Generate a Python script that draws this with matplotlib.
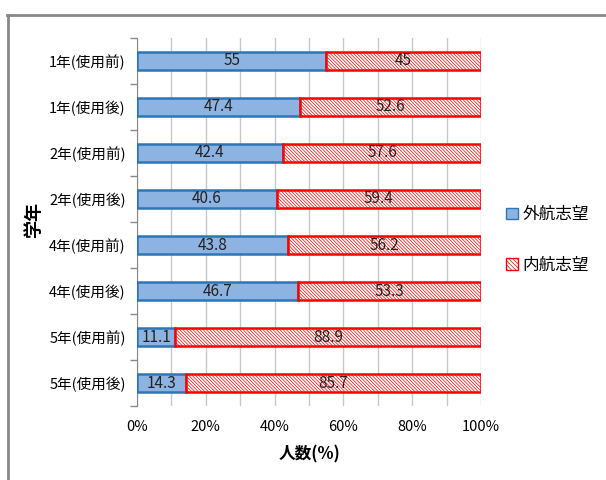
import matplotlib
matplotlib.use("Agg")
import matplotlib.pyplot as plt
from matplotlib.lines import Line2D
from matplotlib.patches import Patch
import numpy as np

plt.rcParams['font.family'] = ['Noto Sans CJK JP', 'DejaVu Sans']
plt.rcParams['hatch.linewidth'] = 0.5

categories = ['1年(使用前)', '1年(使用後)', '2年(使用前)', '2年(使用後)',
              '4年(使用前)', '4年(使用後)', '5年(使用前)', '5年(使用後)']
outer = [55, 47.4, 42.4, 40.6, 43.8, 46.7, 11.1, 14.3]
inner = [45, 52.6, 57.6, 59.4, 56.2, 53.3, 88.9, 85.7]
series_names = ['外航志望', '内航志望']
xticks = [0, 20, 40, 60, 80, 100]
xtick_labels = ['0%', '20%', '40%', '60%', '80%', '100%']

blue_fill = '#8db3e2'
blue_edge = '#2e75b6'
red = '#ff0000'

fig = plt.figure(figsize=(6.06, 4.8), dpi=100)
ax = fig.add_axes([0.226, 0.154, 0.568, 0.767])

y = np.arange(len(categories))
h = 0.4
ax.barh(y, outer, height=h, color=blue_fill, edgecolor=blue_edge, linewidth=1.8, zorder=3)
ax.barh(y, inner, left=outer, height=h, color='white', edgecolor=red,
        hatch='\\' * 10, linewidth=1.8, zorder=3)

for yi, o, i in zip(y, outer, inner):
    ax.text(o / 2, yi, f'{o:g}', ha='center', va='center', fontsize=11, color='#222222', zorder=4)
    ax.text(o + i / 2, yi, f'{i:g}', ha='center', va='center', fontsize=11, color='#222222', zorder=4)

ax.set_xlim(0, 100)
ax.set_ylim(len(categories) - 0.5, -0.5)
ax.set_xticks(xticks)
ax.set_xticklabels(xtick_labels, fontsize=10.5)
ax.set_xticks(np.arange(0, 101, 10), minor=True)
ax.grid(axis='x', which='both', color='#c8c8c8', linewidth=1, zorder=0)
ax.tick_params(axis='x', which='both', length=0, pad=10)

ax.set_yticks(y)
ax.set_yticklabels(categories, fontsize=10.5)
ax.tick_params(axis='y', which='major', length=0, pad=8)
ax.set_yticks(np.arange(-0.5, len(categories) + 0.5, 1), minor=True)
ax.tick_params(axis='y', which='minor', length=5, color='#888888', width=1)

for s in ['top', 'right', 'bottom']:
    ax.spines[s].set_visible(False)
ax.spines['left'].set_color('#888888')

ax.set_xlabel('人数(%)', fontsize=12, fontweight='bold', labelpad=8)
fig.text(0.056, 0.542, '学年', rotation=90, fontsize=13, fontweight='bold',
         ha='center', va='center')

handles = [Patch(facecolor=blue_fill, edgecolor=blue_edge, linewidth=1),
           Patch(facecolor='white', edgecolor=red, hatch='\\' * 8, linewidth=1)]
fig.legend(handles, series_names, loc='center left', bbox_to_anchor=(0.81, 0.50),
           frameon=False, fontsize=12, handlelength=0.7, handleheight=0.7,
           handletextpad=0.3, labelspacing=2.0)

# outer chart frame
fig.add_artist(Line2D([7.5 / 606, 7.5 / 606], [0, 1 - 15 / 480], color='#888888', linewidth=2,
                      transform=fig.transFigure))
fig.add_artist(Line2D([7 / 606, 1], [1 - 15 / 480, 1 - 15 / 480], color='#888888', linewidth=2,
                      transform=fig.transFigure))

fig.savefig('out.png', dpi=100, facecolor='white')
